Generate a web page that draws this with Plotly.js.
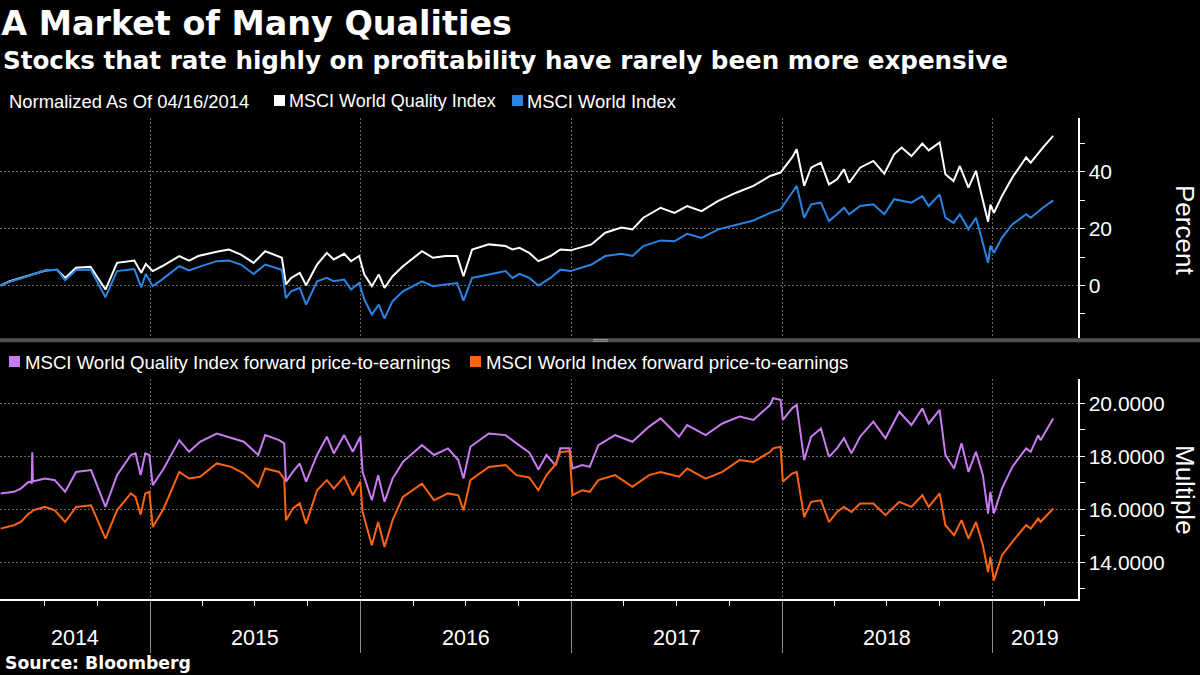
<!DOCTYPE html>
<html>
<head>
<meta charset="utf-8">
<script src="https://cdn.plot.ly/plotly-3.0.1.min.js"></script>
<style>
html,body{margin:0;padding:0;background:#000;}
#chart{width:1200px;height:675px;}
</style>
</head>
<body>
<div id="chart"></div>
<script>
// ---------- DATA ----------
const titleText = "A Market of Many Qualities";
const subtitleText = "Stocks that rate highly on profitability have rarely been more expensive";
const sourceText = "Source: Bloomberg";
const normNote = "Normalized As Of 04/16/2014";
const seriesNames = ["MSCI World Quality Index", "MSCI World Index",
  "MSCI World Quality Index forward price-to-earnings", "MSCI World Index forward price-to-earnings"];
const yAxisTitles = ["Percent", "Multiple"];
const yearLabels = ["2014", "2015", "2016", "2017", "2018", "2019"];
const yearLabelDates = ["2014-08-23", "2015-07-02", "2016-07-01", "2017-07-02", "2018-07-02", "2019-03-15"];
const yearStarts = ["2015-01-01", "2016-01-01", "2017-01-01", "2018-01-01", "2019-01-01"];
const pctTicks = [0, 20, 40];
const peTicks = [14, 16, 18, 20];

const datesIdx = ["2014-04-16","2014-05-02","2014-05-21","2014-06-13","2014-07-03","2014-07-23","2014-08-06","2014-08-25","2014-09-19","2014-10-15",
"2014-11-04","2014-12-04","2014-12-16","2014-12-24","2015-01-05","2015-01-21","2015-02-20","2015-03-09","2015-03-25","2015-04-26",
"2015-05-17","2015-06-07","2015-06-29","2015-07-19","2015-08-05","2015-08-17","2015-08-24","2015-09-02","2015-09-17","2015-09-28",
"2015-10-17","2015-11-03","2015-11-15","2015-12-03","2015-12-15","2015-12-29","2016-01-07","2016-01-20","2016-02-01","2016-02-11",
"2016-02-25","2016-03-14","2016-04-16","2016-05-05","2016-05-27","2016-06-16","2016-06-27","2016-07-12","2016-08-10","2016-09-08",
"2016-09-20","2016-10-02","2016-10-19","2016-11-04","2016-11-25","2016-12-12","2016-12-30","2017-02-04","2017-02-28","2017-03-28",
"2017-04-16","2017-05-05","2017-06-04","2017-06-28","2017-07-20","2017-08-14","2017-09-12","2017-10-13","2017-11-12","2017-12-11",
"2017-12-29","2018-01-18","2018-01-26","2018-02-08","2018-02-20","2018-03-09","2018-03-23","2018-04-06","2018-04-18","2018-04-27",
"2018-05-16","2018-06-08","2018-06-27","2018-07-14","2018-07-27","2018-08-13","2018-09-01","2018-09-12","2018-10-01","2018-10-11",
"2018-10-25","2018-11-05","2018-11-20","2018-12-03","2018-12-11","2018-12-24","2018-12-28","2019-01-03","2019-01-17","2019-02-04",
"2019-02-28","2019-03-08","2019-03-29","2019-04-16"];
const qualityIdx = [0.0,1.5,2.7,4.1,5.3,5.6,2.7,6.3,6.6,-1.4,
8.0,8.8,4.5,7.6,5.1,6.8,10.4,8.8,10.4,11.9,
12.7,10.9,8.0,12.1,10.9,9.8,0.4,2.7,4.5,0.1,
7.4,11.5,9.2,11.2,8.6,10.4,3.9,-0.2,3.9,-0.8,
3.3,6.8,12.1,9.8,10.4,10.4,3.3,12.7,14.5,13.9,
12.7,13.3,11.5,8.6,10.4,12.7,12.4,14.5,18.6,20.4,
19.8,23.9,27.4,25.6,28.0,26.2,29.8,32.7,35.1,38.6,
39.8,45.1,48.0,35.1,41.5,43.3,35.6,37.4,40.9,36.2,
41.5,43.9,39.4,46.2,48.6,45.6,50.0,47.6,50.4,39.2,
36.8,42.1,34.5,40.4,33.3,22.5,28.5,25.6,31.5,38.0,
45.1,43.3,48.6,52.7];
const worldIdx = [0.0,1.4,2.5,4.1,5.4,5.6,1.9,5.5,5.7,-4.1,
5.1,5.8,-0.6,4.1,-0.2,2.1,6.8,5.3,6.5,8.6,
8.8,7.4,4.1,7.4,6.5,5.6,-4.4,-2.0,-0.8,-6.7,
1.5,2.7,1.5,2.1,-1.4,0.9,-4.9,-10.2,-6.7,-11.6,
-5.5,-2.0,1.5,-0.2,0.4,0.9,-5.3,2.7,3.9,5.1,
2.7,4.1,2.7,0.0,2.7,5.6,5.1,7.4,10.4,11.2,
10.4,13.9,15.9,15.6,18.2,16.8,19.8,21.5,22.9,25.6,
26.8,32.7,35.1,23.9,28.6,29.2,22.7,25.1,27.4,25.1,
28.0,28.6,25.1,30.4,29.8,29.2,31.5,28.0,32.1,23.9,
22.1,25.1,19.8,23.9,18.0,8.0,14.0,11.5,16.8,21.5,
25.1,23.9,27.4,30.0];

const datesPE = ["2014-04-16","2014-05-09","2014-05-21","2014-06-04","2014-06-09","2014-06-10","2014-06-11","2014-07-02","2014-07-19","2014-08-06",
"2014-08-25","2014-09-20","2014-10-15","2014-11-04","2014-11-28","2014-12-06","2014-12-15","2014-12-23","2014-12-30","2015-01-05",
"2015-01-24","2015-02-20","2015-03-09","2015-03-28","2015-04-26","2015-05-21","2015-06-12","2015-07-07","2015-07-19","2015-08-12",
"2015-08-21","2015-08-24","2015-09-05","2015-09-17","2015-09-28","2015-10-17","2015-11-03","2015-11-15","2015-12-03","2015-12-18",
"2015-12-31","2016-01-04","2016-01-16","2016-01-20","2016-01-31","2016-02-11","2016-02-25","2016-03-14","2016-04-16","2016-05-07",
"2016-05-31","2016-06-18","2016-06-27","2016-07-09","2016-08-10","2016-09-08","2016-09-27","2016-10-19","2016-11-04","2016-11-18",
"2016-12-04","2016-12-12","2016-12-28","2017-01-02","2017-01-19","2017-02-01","2017-02-16","2017-03-17","2017-04-16","2017-05-15",
"2017-06-04","2017-07-06","2017-07-20","2017-08-21","2017-09-19","2017-10-19","2017-11-12","2017-12-11","2017-12-16","2017-12-29",
"2018-01-02","2018-01-18","2018-01-26","2018-02-08","2018-02-20","2018-03-09","2018-03-23","2018-04-06","2018-04-18","2018-05-01",
"2018-05-16","2018-06-08","2018-06-29","2018-07-23","2018-08-13","2018-09-01","2018-09-12","2018-10-01","2018-10-11","2018-10-26",
"2018-11-08","2018-11-20","2018-12-03","2018-12-15","2018-12-24","2018-12-28","2019-01-03","2019-01-17","2019-02-04","2019-02-28",
"2019-03-08","2019-03-21","2019-03-25","2019-04-16"];
const qualityPE = [16.6,16.66,16.78,17.04,17.0,18.15,17.05,17.16,17.1,16.66,
17.41,17.48,16.09,17.29,18.05,18.11,17.29,18.11,18.05,16.91,
17.54,18.61,18.17,18.55,18.86,18.68,18.55,18.05,18.8,18.61,
18.49,17.04,17.41,17.73,17.04,18.05,18.74,18.11,18.8,18.17,
18.74,17.41,16.6,16.34,17.29,16.28,17.16,17.79,18.42,18.05,
18.3,17.86,17.16,18.36,18.86,18.8,18.49,18.15,17.5,18.05,
17.65,18.3,18.3,17.54,17.67,17.6,18.42,18.8,18.55,19.12,
19.43,18.74,19.18,18.8,19.24,19.5,19.37,19.94,20.19,20.13,
19.37,19.81,19.94,17.86,18.74,19.05,17.98,18.3,18.68,18.11,
18.74,19.31,18.68,19.68,19.18,19.81,19.24,19.75,18.05,17.54,
18.49,17.41,18.17,17.29,15.84,16.66,15.84,16.78,17.6,18.3,
18.17,18.8,18.61,19.43];
const worldPE = [15.27,15.4,15.52,15.84,15.9,15.96,15.96,16.09,15.96,15.52,
16.09,16.15,14.89,15.96,16.6,16.47,15.8,16.6,16.66,15.33,
16.03,17.41,17.16,17.23,17.73,17.6,17.35,16.85,17.54,17.41,
17.16,15.59,16.03,16.22,15.46,16.72,17.1,16.78,17.23,16.53,
17.04,15.9,15.02,14.64,15.52,14.58,15.59,16.47,16.97,16.34,
16.6,16.53,15.96,17.1,17.6,17.67,17.29,17.2,16.72,17.29,
17.7,18.15,18.2,16.53,16.72,16.66,17.1,17.29,16.85,17.29,
17.41,17.23,17.54,17.16,17.41,17.86,17.79,18.17,18.3,18.36,
17.04,17.35,17.41,15.71,16.28,16.34,15.52,15.9,16.09,15.9,
16.22,16.22,15.78,16.28,16.09,16.53,16.09,16.6,15.4,15.02,
15.59,14.89,15.52,14.64,13.63,14.2,13.32,14.26,14.77,15.4,
15.27,15.65,15.52,16.03];

// ---------- STYLE ----------
const colors = {quality: "#ffffff", world: "#2a84e4", qualityPE: "#c97cf2", worldPE: "#fb6411"};
const W = 1078; // plot width in px
const TOP = 118, BOT = 599, H = BOT - TOP;
const px = x => x / W;
const py = y => (BOT - y) / H;
const textFont = "Liberation Sans, Arial, sans-serif";
const boldFont = "DejaVu Sans, Verdana, sans-serif";
const gridCol = "#6a6a6a";

const traces = [
  {x: datesIdx, y: qualityIdx, xaxis: "x", yaxis: "y", type: "scatter", mode: "lines", name: seriesNames[0],
   line: {color: colors.quality, width: 2}},
  {x: datesIdx, y: worldIdx, xaxis: "x", yaxis: "y", type: "scatter", mode: "lines", name: seriesNames[1],
   line: {color: colors.world, width: 2}},
  {x: datesPE, y: qualityPE, xaxis: "x", yaxis: "y2", type: "scatter", mode: "lines", name: seriesNames[2],
   line: {color: colors.qualityPE, width: 2}},
  {x: datesPE, y: worldPE, xaxis: "x", yaxis: "y2", type: "scatter", mode: "lines", name: seriesNames[3],
   line: {color: colors.worldPE, width: 2}}
];

const yCommon = {
  side: "right", anchor: "x", showline: true, linecolor: "#ffffff", linewidth: 1.5,
  ticks: "outside", ticklen: 5, tickcolor: "#ffffff", tickwidth: 1,
  tickfont: {family: textFont, size: 21, color: "#ffffff"},
  showgrid: true, gridcolor: gridCol, griddash: "2px,2px", gridwidth: 1, zeroline: false,
  minor: {ticks: "outside", ticklen: 5, tickcolor: "#ffffff", showgrid: false}
};

const annotations = [];
function addText(text, x, y, size, opts) {
  annotations.push(Object.assign({
    text: text, xref: "paper", yref: "paper", x: px(x), y: py(y), xanchor: "left", yanchor: "middle",
    showarrow: false, font: {family: textFont, size: size, color: "#ffffff"}
  }, opts || {}));
}
addText(subtitleText, 1, 60, 24.6, {font: {family: boldFont, size: 24.6, color: "#ffffff", weight: "bold"}});
addText(normNote, 7, 101, 18.4);
addText(seriesNames[0], 287, 101, 18);
addText(seriesNames[1], 525, 101, 18.4);
addText(seriesNames[2], 23, 362, 18.6);
addText(seriesNames[3], 484, 362, 18.6);
addText(sourceText, 3, 663, 17.3, {font: {family: boldFont, size: 17.3, color: "#ffffff", weight: "bold"}});
yAxisTitles.forEach((t, i) => {
  addText(t, 1185, i === 0 ? 230 : 490, 26, {xanchor: "center", textangle: 90});
});
yearLabels.forEach((t, i) => {
  annotations.push({text: t, xref: "x", yref: "paper", x: yearLabelDates[i], y: py(638),
    xanchor: "center", yanchor: "middle", showarrow: false,
    font: {family: textFont, size: 21.5, color: "#ffffff"}});
});

function sq(x0, yc, color) {
  return {type: "rect", xref: "paper", yref: "paper", x0: px(x0), x1: px(x0 + 11),
    y0: py(yc + 5.5), y1: py(yc - 5.5), fillcolor: color, line: {width: 0}};
}
const shapes = [
  sq(274, 100.5, colors.quality), sq(512, 100.5, colors.world),
  sq(9, 361.5, colors.qualityPE), sq(470, 361.5, colors.worldPE),
  {type: "line", xref: "paper", yref: "paper", x0: 0, x1: 1200 / W, y0: py(340.3), y1: py(340.3),
   line: {color: "#505050", width: 4}},
  {type: "line", xref: "paper", yref: "paper", x0: px(593), x1: px(608), y0: py(339.5), y1: py(339.5),
   line: {color: "#9a9a9a", width: 1}},
  {type: "line", xref: "paper", yref: "paper", x0: px(593), x1: px(608), y0: py(341.3), y1: py(341.3),
   line: {color: "#9a9a9a", width: 1}}
];

const layout = {
  width: 1200, height: 675,
  paper_bgcolor: "#000000", plot_bgcolor: "#000000",
  margin: {l: 0, r: 122, t: TOP, b: 675 - BOT, pad: 0},
  showlegend: false,
  font: {family: textFont, color: "#ffffff"},
  title: {text: titleText, x: 0.001, xref: "container", xanchor: "left", y: 1 - 23 / 675, yref: "container",
    yanchor: "middle", font: {family: boldFont, size: 33.4, color: "#ffffff", weight: "bold"}},
  xaxis: {
    type: "date", range: ["2014-04-15", "2019-05-29"], anchor: "y2",
    tickmode: "array", tickvals: yearStarts, showticklabels: false,
    ticks: "outside", ticklen: 52, tickcolor: "#8c8c8c", tickwidth: 1,
    showgrid: true, gridcolor: gridCol, griddash: "2px,2px", gridwidth: 1,
    showline: true, linecolor: "#ffffff", linewidth: 1.5, zeroline: false,
    minor: {tick0: "2014-01-01", dtick: "M3", ticks: "outside", ticklen: 5, tickcolor: "#ffffff", showgrid: false}
  },
  yaxis: Object.assign({}, yCommon, {
    domain: [py(338), 1], range: [-18.46, 59.0], tickmode: "array", tickvals: pctTicks,
    minor: Object.assign({}, yCommon.minor, {tick0: 0, dtick: 10})
  }),
  yaxis2: Object.assign({}, yCommon, {
    domain: [0, py(379.3)], range: [12.615, 20.906], tickmode: "array", tickvals: peTicks, tickformat: ".4f",
    minor: Object.assign({}, yCommon.minor, {tick0: 0, dtick: 1})
  }),
  annotations: annotations,
  shapes: shapes
};

Plotly.newPlot("chart", traces, layout, {staticPlot: true, displayModeBar: false});
</script>
</body>
</html>
